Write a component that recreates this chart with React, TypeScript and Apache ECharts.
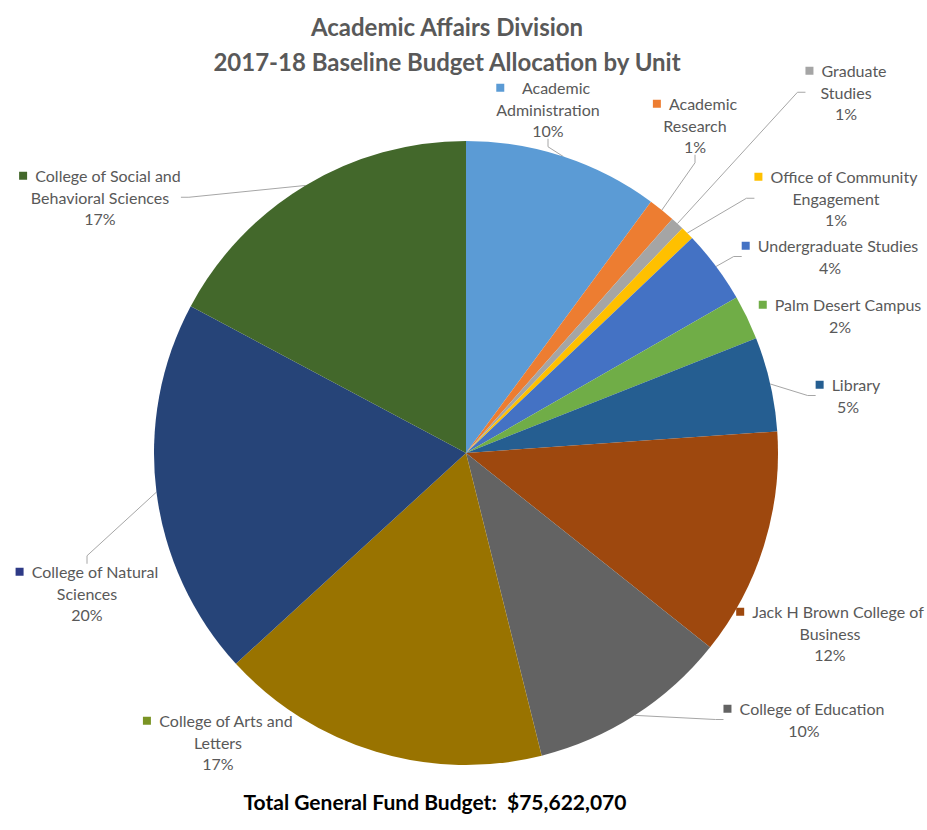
import React, { useEffect, useRef } from "react";
import * as echarts from "echarts";

const titleLines = ["Academic Affairs Division", "2017-18 Baseline Budget Allocation by Unit"];
const footnote = "Total General Fund Budget:\u00A0\u00A0$75,622,070";

const units = [
  "Academic Administration",
  "Academic Research",
  "Graduate Studies",
  "Office of Community Engagement",
  "Undergraduate Studies",
  "Palm Desert Campus",
  "Library",
  "Jack H Brown College of Business",
  "College of Education",
  "College of Arts and Letters",
  "College of Natural Sciences",
  "College of Social and Behavioral Sciences",
];
// share of the total budget, percent
const shares = [10.1, 1.4, 0.7, 0.7, 3.8, 2.3, 4.9, 11.8, 10.4, 17.1, 19.6, 17.2];
// label text, as wrapped in the reference
const labelText = [
  ["Academic", "Administration"],
  ["Academic", "Research"],
  ["Graduate", "Studies"],
  ["Office of Community", "Engagement"],
  ["Undergraduate Studies"],
  ["Palm Desert Campus"],
  ["Library"],
  ["Jack H Brown College of", "Business"],
  ["College of Education"],
  ["College of Arts and", "Letters"],
  ["College of Natural", "Sciences"],
  ["College of Social and", "Behavioral Sciences"],
];

// styles / layout
const colors = [
  "#5B9BD5", "#ED7D31", "#A5A5A5", "#FFC000", "#4472C4", "#70AD47",
  "#255E91", "#9E480E", "#636363", "#997300", "#264478", "#43682B",
];
const markerColors = [
  "#5B9BD5", "#ED7D31", "#A5A5A5", "#FFC000", "#4472C4", "#70AD47",
  "#255E91", "#9E480E", "#636363", "#7A9424", "#2E3A86", "#43682B",
];
const labelPos = [
  [548, 77], [695, 93], [846, 60], [836, 166], [830, 235], [840, 294],
  [848, 374], [830, 601], [804, 698], [218, 710], [87, 561], [100, 165],
];
const showLeader = [true, true, true, true, true, false, true, false, true, false, true, true];

const FONT = "Lato, 'Open Sans', sans-serif";

export default function App() {
  const ref = useRef<HTMLDivElement>(null);
  useEffect(() => {
    if (!ref.current) return;
    const chart = echarts.init(ref.current, undefined, { renderer: "svg" });
    const textStyle = {
      fontSize: 16,
      color: "#595959",
      fontFamily: FONT,
      lineHeight: 21.5,
      align: "center",
    };
    const data = units.map((name, i) => ({
      name,
      value: shares[i],
      itemStyle: { color: colors[i] },
      label: {
        rich: {
          m: { width: 8, height: 8, backgroundColor: markerColors[i], align: "left" },
          s: { width: 8, align: "left" },
          t: textStyle,
        },
      },
      labelLine: { show: showLeader[i] },
    }));
    chart.setOption({
      animation: false,
      backgroundColor: "#ffffff",
      title: {
        text: titleLines.join("\n"),
        left: 442,
        textAlign: "center",
        top: 4,
        textStyle: {
          fontFamily: FONT,
          fontSize: 24,
          fontWeight: "bold",
          color: "#595959",
          lineHeight: 35,
        },
      },
      graphic: [
        {
          type: "text",
          x: 435,
          y: 801,
          style: {
            text: footnote,
            align: "center",
            verticalAlign: "middle",
            font: `bold 21px ${FONT}`,
            fill: "#000000",
          },
        },
      ],
      series: [
        {
          type: "pie",
          center: [466, 453],
          radius: 312,
          startAngle: 90,
          clockwise: true,
          avoidLabelOverlap: false,
          emphasis: { disabled: true },
          itemStyle: { borderWidth: 0 },
          label: {
            show: true,
            position: "outside",
            formatter: (p: any) => {
              const lines = labelText[p.dataIndex];
              let s = `{m|}{s|}{t|${lines[0]}}`;
              for (let k = 1; k < lines.length; k++) s += `\n{t|${lines[k]}}`;
              s += `\n{t|${Math.round(p.percent)}%}`;
              return s;
            },
          },
          labelLine: {
            show: true,
            length: 8,
            length2: 8,
            lineStyle: { color: "#A6A6A6", width: 1 },
          },
          labelLayout: (params: any) => {
            const p = labelPos[params.dataIndex];
            return { x: p[0], y: p[1], align: "center", verticalAlign: "top" };
          },
          data,
        },
      ],
    });
    return () => chart.dispose();
  }, []);
  return (
    <div
      ref={ref}
      style={{ position: "absolute", left: 0, top: 0, width: 927, height: 830 }}
    />
  );
}
